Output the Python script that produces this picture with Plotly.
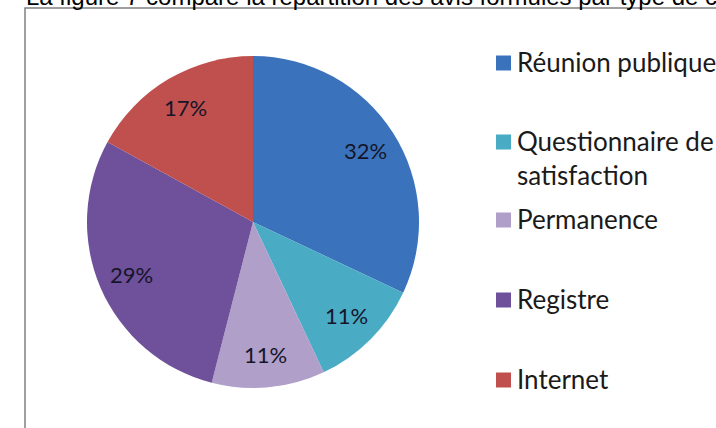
import math
import textwrap
import plotly.graph_objects as go

# ---- data ----
labels = ["Réunion publique", "Questionnaire de satisfaction", "Permanence", "Registre", "Internet"]
values = [32, 11, 11, 29, 17]
colors = ["#3A73BC", "#4AABC5", "#AF9FC9", "#6F509A", "#C0504D"]
caption = "La figure 7 compare la répartition des avis formulés par type de concertation"

# ---- layout helpers (pixels -> paper) ----
W, H = 716, 428
def px_x(x):
    return x / W
def px_y(y):
    return 1 - y / H

cx, cy, r = 253, 222, 166
label_radius = 0.8
legend_rows_px = [63, 142, 220, 300, 380]
legend_font = 26
label_font = 22

fig = go.Figure()
fig.add_trace(go.Pie(
    labels=labels,
    values=values,
    sort=False,
    direction="clockwise",
    rotation=0,
    marker=dict(colors=colors, line=dict(width=0)),
    textinfo="none",
    domain=dict(x=[px_x(cx - r), px_x(cx + r)], y=[px_y(cy + r), px_y(cy - r)]),
    showlegend=False,
    hoverinfo="label+percent",
))

shapes = [dict(type="rect", xref="paper", yref="paper",
               x0=px_x(25), x1=1.1, y0=px_y(8), y1=-0.1,
               line=dict(color="#808080", width=1.5), fillcolor="rgba(0,0,0,0)", layer="below")]
annotations = [dict(text=caption, xref="paper", yref="paper", x=px_x(24), y=px_y(-4),
                    xanchor="left", yanchor="middle", showarrow=False,
                    font=dict(family="Liberation Sans", size=24, color="#000000"))]

# percentage labels placed along each slice's bisector (derived from the values)
total = sum(values)
cum = 0
for v in values:
    theta = 2 * math.pi * (cum + v / 2) / total
    cum += v
    lx = cx + label_radius * r * math.sin(theta)
    ly = cy - label_radius * r * math.cos(theta)
    annotations.append(dict(text=f"{round(100 * v / total)}%", xref="paper", yref="paper",
                            x=px_x(lx), y=px_y(ly), xanchor="center", yanchor="middle",
                            showarrow=False,
                            font=dict(family="Lato", size=label_font, color="#15152a")))

for lab, col, row in zip(labels, colors, legend_rows_px):
    lines = textwrap.wrap(lab, width=16)
    shapes.append(dict(type="rect", xref="paper", yref="paper",
                       x0=px_x(496), x1=px_x(511), y0=px_y(row + 7.5), y1=px_y(row - 7.5),
                       line=dict(width=0), fillcolor=col))
    annotations.append(dict(text="<br>".join(lines), xref="paper", yref="paper",
                            x=px_x(515), y=px_y(row - 0.65 * legend_font - 2),
                            xanchor="left", yanchor="top", align="left", showarrow=False,
                            font=dict(family="Lato", size=legend_font, color="#1a1a1a")))

fig.update_layout(
    width=W, height=H,
    margin=dict(l=0, r=0, t=0, b=0),
    paper_bgcolor="white", plot_bgcolor="white",
    shapes=shapes, annotations=annotations,
)
fig.write_html("out.html", config={"displayModeBar": False},
               post_script="document.body.style.margin='0';document.body.style.overflow='hidden';")
